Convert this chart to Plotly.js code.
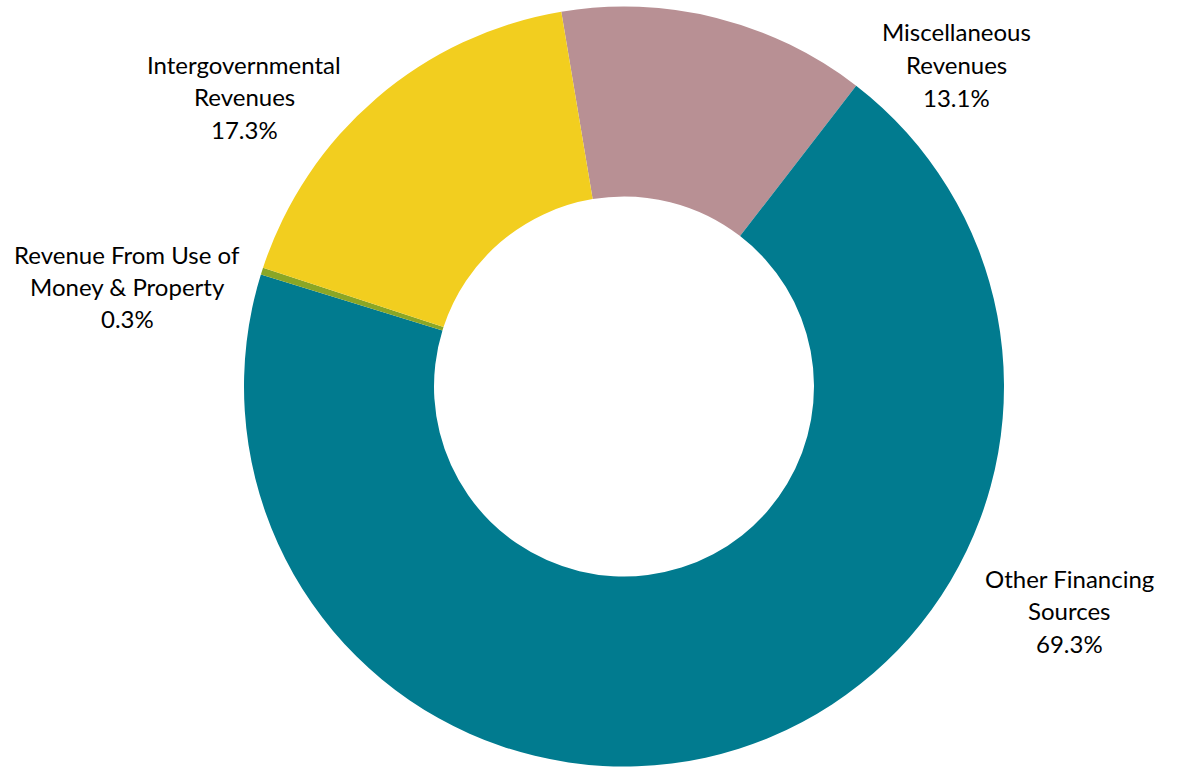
<!DOCTYPE html>
<html>
<head>
<meta charset="utf-8">
<script src="https://cdn.plot.ly/plotly-3.0.1.min.js"></script>
<style>html,body{margin:0;padding:0;background:#fff;}#chart{width:1178px;height:768px;}</style>
</head>
<body>
<div id="chart"></div>
<script>
// Data
const categories = ["Miscellaneous Revenues", "Other Financing Sources", "Revenue From Use of Money & Property", "Intergovernmental Revenues"];
const labelLines = [["Miscellaneous", "Revenues"], ["Other Financing", "Sources"], ["Revenue From Use of", "Money & Property"], ["Intergovernmental", "Revenues"]];
const values = [13.1, 69.3, 0.3, 17.3];
const colors = ["#B89094", "#017B8F", "#8AA626", "#F2CE1F"];

// label anchor positions in pixels (center x, first line y)
const labelPos = [[957, 32], [1069, 578], [127, 254], [244, 64]];
const W = 1178, H = 768, lineGap = 32.5;

const annotations = [];
categories.forEach((c, i) => {
  const lines = labelLines[i].concat([values[i].toFixed(1) + "%"]);
  lines.forEach((t, j) => {
    annotations.push({
      text: t, xref: "paper", yref: "paper",
      x: labelPos[i][0] / W, y: 1 - (labelPos[i][1] + j * lineGap) / H,
      xanchor: "center", yanchor: "middle", showarrow: false,
      font: {family: "Lato, 'Open Sans', sans-serif", size: 24, color: "#000"}
    });
  });
});

const cx = 624, cy = 386.5, R = 380;
const trace = {
  type: "pie",
  labels: categories,
  values: values,
  hole: 0.5,
  sort: false,
  direction: "clockwise",
  rotation: -9.5,
  marker: {colors: colors, line: {width: 0}},
  textinfo: "none",
  hoverinfo: "label+percent",
  domain: {x: [(cx - R) / W, (cx + R) / W], y: [1 - (cy + R) / H, 1 - (cy - R) / H]},
  showlegend: false
};

Plotly.newPlot("chart", [trace], {
  width: W, height: H,
  margin: {l: 0, r: 0, t: 0, b: 0},
  paper_bgcolor: "#fff",
  showlegend: false,
  annotations: annotations
}, {displayModeBar: false, staticPlot: true});
</script>
</body>
</html>
